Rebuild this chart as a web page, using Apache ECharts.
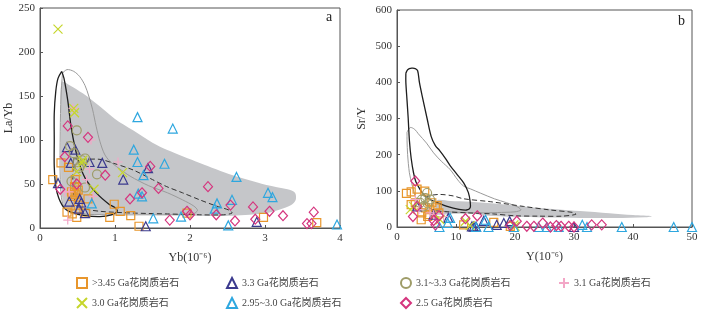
<!DOCTYPE html>
<html><head><meta charset="utf-8">
<script src="https://cdn.jsdelivr.net/npm/echarts@6/dist/echarts.min.js"></script>
<style>html,body{margin:0;padding:0;background:#fff}#c{width:707px;height:312px}</style>
</head><body><div id="c"></div>
<script>
// ---- names ----
const groupNames = ['>3.45 Ga花岗质岩石','3.3 Ga花岗质岩石','3.1~3.3 Ga花岗质岩石','3.1 Ga花岗质岩石','3.0 Ga花岗质岩石','2.95~3.0 Ga花岗质岩石','2.5 Ga花岗质岩石'];
const xTicksA = [0,1,2,3,4];
const yTicksA = [0,50,100,150,200,250];
const xTicksB = [0,10,20,30,40,50];
const yTicksB = [0,100,200,300,400,500,600];

// ---- panel a points: [Yb, La/Yb] ----
const sqA = [[0.17,55],[0.28,74],[0.38,69],[0.47,55],[0.42,41],[0.45,40],[0.47,38],[0.49,40],[0.43,36],[0.51,43],[0.46,47],[0.64,33],[0.51,26],[0.48,21],[0.36,18],[0.43,16],[0.49,12],[0.61,17],[0.93,12],[0.99,27],[1.07,19],[1.21,14],[1.32,2],[1.96,17],[2.98,12],[3.69,6]];
const triA = [[0.24,51],[0.36,92],[0.47,89],[0.41,74],[0.66,75],[0.83,74],[1.11,55],[1.44,68],[0.39,30],[0.53,33],[0.55,29],[0.6,17],[0.52,22],[1.41,2],[2.89,7]];
const cirA = [[0.49,111],[0.4,93],[0.45,85],[0.56,77],[0.6,79],[0.53,70],[0.76,61],[0.6,46],[0.42,53],[0.52,68],[0.5,75]];
const plusA = [[0.44,136],[0.37,9],[0.39,41],[0.66,67],[0.71,36],[1.04,75],[0.68,100],[0.33,41],[0.62,55]];
const xA = [[0.24,226],[0.45,136],[0.46,131],[0.56,74],[0.57,77],[0.49,64],[0.72,44],[1.1,63]];
const cyanA = [[1.3,126],[1.77,113],[1.25,89],[1.3,75],[1.66,73],[1.38,60],[1.31,39],[1.36,36],[2.62,58],[3.04,40],[3.1,35],[2.36,28],[2.33,22],[2.56,32],[1.51,11],[1.88,13],[2.51,3],[3.96,4],[0.69,28]];
const diaA = [[0.37,116],[0.64,103],[0.33,81],[0.27,44],[0.87,60],[1.47,70],[1.36,40],[1.2,33],[1.58,45],[2.24,47],[2.54,26],[1.96,19],[2.0,15],[1.73,9],[2.35,15],[2.6,8],[2.84,24],[2.87,10],[3.06,19],[3.24,14],[3.56,5],[3.62,5],[3.65,18],[0.49,50]];

// ---- panel b points: [Y, Sr/Y] ----
const sqB = [[1.6,93],[2.4,97],[3.4,105],[4.7,99],[2.4,62],[3.1,67],[4.2,39],[4.1,20],[5.9,67],[6.5,53],[6.8,59],[5.6,48],[5.4,34],[7.1,39],[11.3,6],[16.4,13],[19.2,2],[4.8,53],[5.2,29]];
const triB = [[3.4,57],[6.2,34],[12.7,2],[13,1],[13.4,1],[14.7,17],[16.9,6],[18.1,11],[19.1,16],[30,0],[8.7,25]];
const cirB = [[4.2,76],[4.8,80],[3.9,67],[5.2,65],[4.5,57],[5.6,76],[5.1,94]];
const plusB = [[3.1,76],[6.2,34],[7.9,29],[3.7,48],[5.6,39]];
const xB = [[2.25,48],[2.8,57],[7.3,20],[11.6,16],[12.4,4],[19.8,6],[20,2]];
const cyanB = [[7.2,0],[8.6,11],[9,25],[15,20],[15.5,0],[19.8,0],[24,0],[25.4,0],[27.4,0],[31.4,6],[32.2,0],[38.1,0],[46.9,0],[50,0],[13.4,0]];
const diaB = [[3.1,127],[2.7,29],[3.4,57],[6.2,18],[7.1,31],[13.6,31],[11.6,23],[20.3,16],[23.2,2],[24.7,11],[26,0],[27,4],[27.8,2],[29.1,2],[30,0],[33,6],[34.7,6],[22,2],[19.2,4],[6.5,6]];

// ---- fields / contours (data coords) ----
const fieldA = [[0.29,166],[0.4,162],[0.57,153],[0.8,138],[1.0,124],[1.24,111],[1.5,97],[1.69,89],[2.13,74],[2.57,60],[3.02,49],[3.3,44],[3.4,40],[3.41,32],[3.35,26],[3.2,21],[3.02,17],[2.57,14],[2.0,14],[1.5,15],[1.0,16],[0.6,14],[0.42,16],[0.33,22],[0.29,40],[0.28,80],[0.28,130]];
const blackA = [[0.29,178],[0.24,170],[0.21,155],[0.19,130],[0.19,100],[0.19,70],[0.21,48],[0.25,34],[0.33,22],[0.45,17],[0.6,14],[0.8,13],[0.95,15],[1.03,19],[1.0,23],[0.92,27],[0.76,39],[0.6,57],[0.5,80],[0.42,112],[0.37,145],[0.32,170]];
const greyA = [[0.3,176],[0.36,180],[0.45,178],[0.53,172],[0.6,162],[0.65,150],[0.7,135],[0.75,115],[0.8,98],[0.86,84],[0.93,76],[1.05,68],[1.2,59],[1.45,48],[1.7,40],[1.9,32],[2.05,25],[2.1,20],[2.04,16],[1.8,15],[1.4,15],[0.9,15],[0.55,16],[0.38,19],[0.3,28],[0.27,55],[0.27,110],[0.28,150]];
const dashA = [[0.45,79],[0.53,78],[0.8,78],[1.0,73],[1.24,66],[1.5,55],[1.69,47],[1.9,40],[2.13,32],[2.35,25],[2.53,20],[2.56,17],[2.45,15],[2.13,15],[1.7,16],[1.24,17],[0.8,19],[0.55,23],[0.47,30],[0.44,47],[0.44,65]];
const fieldB = [[6.8,74],[9,72],[12.4,70],[17,64],[22,56],[27,49],[31,44],[36,38],[40,33],[43.2,30],[42,27],[37,25],[31,25],[25,26],[20,28],[15,32],[12.4,37],[9,36],[6.8,35],[6.5,55]];
const blackB = [[1.5,425],[1.8,435],[2.5,439],[3.1,438],[3.5,432],[3.8,400],[4.3,360],[5.1,300],[5.8,250],[6.5,225],[7.2,212],[8.2,190],[9,170],[10.2,145],[11.3,122],[12.1,95],[12.4,70],[12.4,53],[11.8,47],[10.5,49],[8.5,57],[7,66],[5.6,76],[4.5,90],[3.9,104],[3.2,125],[2.8,150],[2.4,190],[2.1,240],[1.9,300],[1.7,350],[1.5,400]];
const greyB = [[1.7,262],[2.25,275],[3.0,270],[3.6,258],[5,232],[6.2,205],[7.5,182],[9,159],[10.3,130],[11.3,113],[12.5,105],[14.1,94],[16.5,78],[18.6,67],[20.5,55],[21,47],[20,42],[17,40],[14,39],[10,41],[7,45],[4.5,50],[3.6,70],[3.1,85],[2.5,120],[2.1,150],[1.8,200],[1.7,240]];
const dashB = [[4.8,80],[5.6,87],[7.3,90],[9.5,86],[11.3,78],[15.8,70],[21.4,57],[26,47],[29.9,40],[30.3,35],[28,30],[24,30],[20,31],[16.4,36],[12,39],[8.5,42],[6.5,45],[5.2,55],[4.7,68]];

const colors = ['#E8962C','#3B3A8E','#9E9C68','#F3A7C7','#C6D62C','#2EA7DF','#D5357E'];
const symbols = ['rect','triangle','circle','path://M5,0L5,10M0,5L10,5','path://M0,0L10,10M10,0L0,10','triangle','diamond'];
const sizes = [8,9,9,9,9,9,[9,10]];
const dataA = [sqA,triA,cirA,plusA,xA,cyanA,diaA];
const dataB = [sqB,triB,cirB,plusB,xB,cyanB,diaB];

function shape(pts, gi, style, kind, z){
  const closed = kind==='polyline' ? pts.concat([pts[0]]) : pts;
  return {type:'custom', xAxisIndex:gi, yAxisIndex:gi, silent:true, z:z,
    data: pts, encode:{x:0,y:1},
    renderItem: function(params, api){
      if (params.dataIndex !== 0) return null;
      return {type: kind, shape:{points: closed.map(p=>api.coord(p)), smooth:0.3}, style: style};
    }};
}

const series = [];
series.push(shape(fieldA,0,{fill:'#C5C6C9',stroke:null},'polygon',1));
series.push(shape(fieldB,1,{fill:'#C5C6C9',stroke:null},'polygon',1));
series.push(shape(greyA,0,{fill:null,stroke:'#9A9A9A',lineWidth:1},'polyline',2));
series.push(shape(greyB,1,{fill:null,stroke:'#9A9A9A',lineWidth:1},'polyline',2));
series.push(shape(blackA,0,{fill:null,stroke:'#1E1E1E',lineWidth:1.3},'polyline',2));
series.push(shape(blackB,1,{fill:null,stroke:'#1E1E1E',lineWidth:1.3},'polyline',2));
series.push(shape(dashA,0,{fill:null,stroke:'#333',lineWidth:1,lineDash:[5,3]},'polyline',2));
series.push(shape(dashB,1,{fill:null,stroke:'#333',lineWidth:1,lineDash:[5,3]},'polyline',2));

groupNames.forEach((n,i)=>{
  [dataA[i],dataB[i]].forEach((d,gi)=>{
    series.push({type:'scatter', name:n, xAxisIndex:gi, yAxisIndex:gi, z:5,
      symbol:symbols[i], symbolSize:sizes[i], data:d,
      itemStyle:{color:'rgba(0,0,0,0)', borderColor:colors[i], borderWidth:1.2, opacity:1}});
  });
});

const legendPos = [[71,272],[221,272],[395,272],[553,272],[71,292],[221,292],[395,292]];
const legends = groupNames.map((n,i)=>({
  data:[n], left:legendPos[i][0], top:legendPos[i][1], itemWidth:10, itemHeight:10,
  selectedMode:false,
  textStyle:{fontFamily:'Liberation Serif, "Noto Sans CJK SC"', fontSize:10, color:'#444'}
}));

const font = 'Liberation Serif';
function vaxis(min,max,interval,name,gi,gap){
  return {type:'value', gridIndex:gi, min:min, max:max, interval:interval, name:name,
    nameLocation:'middle', nameGap:gap, nameTextStyle:{fontFamily:font,fontSize:12,color:'#333'},
    axisLine:{show:true,lineStyle:{color:'#555'}}, axisTick:{show:true,inside:true,length:3,lineStyle:{color:'#555'}},
    axisLabel:{fontFamily:font,fontSize:11,color:'#333',margin:5}, splitLine:{show:false}};
}

const option = {
  animation:false,
  backgroundColor:'#fff',
  grid:[{left:40,top:8,width:300,height:220,show:true,borderColor:'#555',borderWidth:1},
        {left:397,top:10,width:295,height:217,show:true,borderColor:'#555',borderWidth:1}],
  xAxis:[vaxis(0,4,1,'Yb(10⁻⁶)',0,24), vaxis(0,50,10,'Y(10⁻⁶)',1,24)],
  yAxis:[vaxis(0,250,50,'La/Yb',0,25), vaxis(0,600,100,'Sr/Y',1,29)],
  legend: legends,
  graphic:[
    {type:'text',left:326,top:10,style:{text:'a',font:'14px Liberation Serif',fill:'#222'}},
    {type:'text',left:678,top:14,style:{text:'b',font:'14px Liberation Serif',fill:'#222'}}
  ],
  series: series
};
const chart = echarts.init(document.getElementById('c'),null,{renderer:'canvas'});
chart.setOption(option);
</script></body></html>
